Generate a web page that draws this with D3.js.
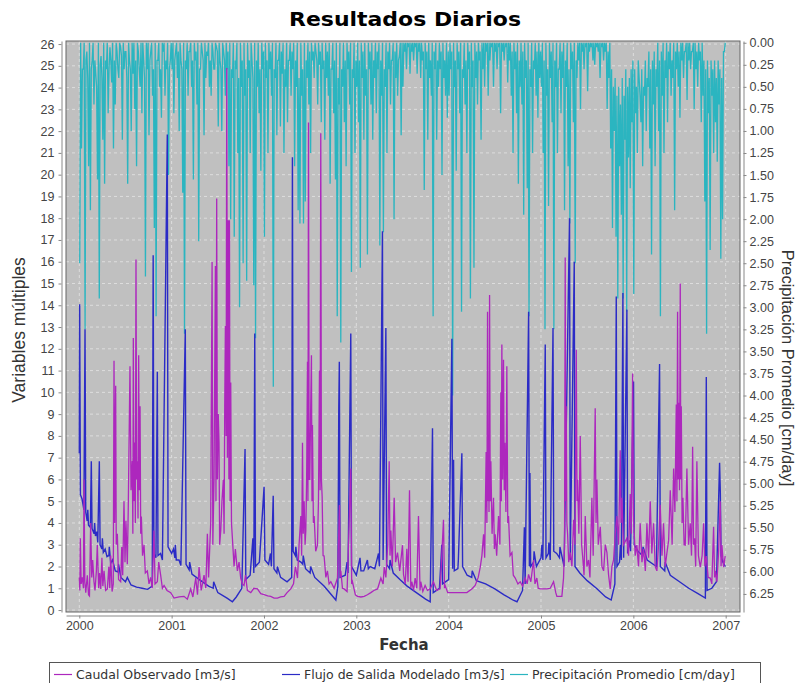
<!DOCTYPE html>
<html lang="es">
<head>
<meta charset="UTF-8">
<title>Resultados Diarios</title>
<style>
  body { margin: 0; background: #fff; }
  svg { display: block; font-family: "DejaVu Sans", sans-serif; }
  .tick text { fill: #444; font-size: 12.5px; }
  .tick line { stroke: #888; }
  .domain { stroke: #888; }
</style>
</head>
<body>
<div id="chart"></div>
<script src="https://d3js.org/d3.v7.min.js"></script>
<script>
// ---- data (decimal year, value) ----
const flujoModelado = [
  [2000.000, 7.2], [2000.004, 14.05], [2000.012, 5.3], [2000.030, 5.1], [2000.050, 4.6], [2000.062, 12.9],
  [2000.070, 4.5], [2000.085, 4.1], [2000.092, 4.6], [2000.100, 3.9], [2000.120, 3.8], [2000.130, 6.84],
  [2000.138, 3.75], [2000.160, 3.5], [2000.166, 4.0], [2000.175, 3.4], [2000.190, 3.6], [2000.200, 3.1],
  [2000.217, 6.84], [2000.225, 3.0], [2000.245, 2.8], [2000.250, 3.3], [2000.260, 2.65], [2000.280, 2.8],
  [2000.300, 2.45], [2000.320, 2.5], [2000.325, 2.9], [2000.340, 2.15], [2000.360, 2.3], [2000.390, 1.8],
  [2000.420, 1.75], [2000.425, 2.1], [2000.450, 1.5], [2000.500, 1.3], [2000.520, 1.5], [2000.560, 1.15],
  [2000.620, 1.05], [2000.680, 1.0], [2000.740, 0.95], [2000.790, 1.1], [2000.800, 16.3], [2000.808, 2.6],
  [2000.830, 2.4], [2000.845, 10.95], [2000.852, 2.5], [2000.880, 2.6], [2000.900, 2.3], [2000.953, 21.85],
  [2000.961, 2.9], [2001.000, 2.6], [2001.020, 2.8], [2001.035, 2.4], [2001.040, 3.0], [2001.050, 2.3],
  [2001.080, 2.3], [2001.100, 2.05], [2001.148, 12.9], [2001.156, 2.1], [2001.190, 1.85], [2001.195, 2.2],
  [2001.220, 1.65], [2001.300, 1.4], [2001.400, 1.1], [2001.450, 1.0], [2001.455, 1.3], [2001.500, 0.8],
  [2001.600, 0.55], [2001.658, 0.38], [2001.700, 0.6], [2001.760, 1.0], [2001.795, 7.4], [2001.803, 1.4],
  [2001.850, 1.6], [2001.880, 3.3], [2001.890, 1.7], [2001.900, 12.7], [2001.908, 2.0], [2001.950, 2.2],
  [2002.001, 5.66], [2002.010, 2.3], [2002.050, 2.1], [2002.070, 2.6], [2002.080, 2.0], [2002.100, 5.25],
  [2002.108, 1.9], [2002.140, 1.7], [2002.145, 2.0], [2002.180, 1.5], [2002.250, 1.3], [2002.300, 1.5],
  [2002.308, 20.8], [2002.316, 2.7], [2002.340, 2.5], [2002.345, 2.9], [2002.360, 2.3], [2002.400, 2.2],
  [2002.420, 2.1], [2002.425, 2.5], [2002.450, 1.9], [2002.500, 1.7], [2002.505, 2.0], [2002.550, 1.5],
  [2002.650, 1.1], [2002.730, 0.7], [2002.778, 0.46], [2002.800, 1.1], [2002.810, 9.27], [2002.816, 11.4],
  [2002.824, 1.5], [2002.880, 1.6], [2002.900, 2.2], [2002.910, 1.7], [2002.940, 12.7], [2002.948, 2.0],
  [2003.000, 1.6], [2003.040, 2.4], [2003.050, 1.8], [2003.080, 1.8], [2003.120, 2.3], [2003.130, 1.9],
  [2003.150, 2.0], [2003.200, 1.9], [2003.240, 2.6], [2003.250, 2.0], [2003.283, 17.4], [2003.290, 2.3],
  [2003.320, 12.96], [2003.328, 2.1], [2003.360, 1.9], [2003.365, 2.3], [2003.400, 1.7], [2003.475, 1.39],
  [2003.550, 1.1], [2003.650, 0.8], [2003.750, 0.5], [2003.800, 0.38], [2003.825, 8.35], [2003.833, 0.8],
  [2003.900, 1.0], [2003.926, 3.0], [2003.934, 1.2], [2004.000, 1.4], [2004.035, 12.46], [2004.043, 1.9],
  [2004.053, 6.9], [2004.061, 1.8], [2004.100, 1.9], [2004.105, 2.3], [2004.143, 7.2], [2004.151, 2.0],
  [2004.200, 1.6], [2004.250, 1.5], [2004.255, 1.8], [2004.300, 1.35], [2004.400, 1.2], [2004.500, 0.97],
  [2004.600, 0.7], [2004.700, 0.45], [2004.740, 0.38], [2004.800, 0.9], [2004.820, 3.8], [2004.828, 1.2],
  [2004.866, 13.7], [2004.874, 2.0], [2004.880, 6.3], [2004.888, 2.0], [2004.920, 2.2], [2004.925, 2.7],
  [2004.950, 2.0], [2005.000, 2.4], [2005.010, 3.0], [2005.020, 2.3], [2005.046, 12.2], [2005.054, 2.4],
  [2005.080, 2.6], [2005.085, 3.1], [2005.100, 2.3], [2005.130, 12.96], [2005.138, 2.7], [2005.170, 2.6],
  [2005.200, 2.4], [2005.205, 2.9], [2005.250, 2.0], [2005.309, 18.0], [2005.317, 2.3], [2005.360, 16.0],
  [2005.368, 2.0], [2005.420, 1.7], [2005.500, 1.35], [2005.600, 1.0], [2005.700, 0.6], [2005.760, 0.46],
  [2005.800, 1.2], [2005.815, 14.4], [2005.823, 2.0], [2005.850, 2.2], [2005.860, 3.0], [2005.870, 2.3],
  [2005.887, 14.56], [2005.895, 2.4], [2005.930, 13.8], [2005.938, 2.6], [2005.960, 3.2], [2005.970, 2.7],
  [2006.002, 10.5], [2006.010, 3.0], [2006.050, 2.7], [2006.100, 2.5], [2006.105, 2.9], [2006.150, 2.3],
  [2006.250, 2.0], [2006.284, 11.3], [2006.292, 2.0], [2006.340, 1.8], [2006.345, 2.2], [2006.400, 1.6],
  [2006.500, 1.3], [2006.600, 1.0], [2006.700, 0.75], [2006.780, 0.55], [2006.790, 10.7], [2006.798, 0.9],
  [2006.850, 1.0], [2006.900, 1.3], [2006.934, 6.76], [2006.942, 5.4], [2006.950, 2.5], [2006.970, 2.2],
  [2006.997, 2.0]
];

const caudalObservado = [
  [2000.000, 1.5], [2000.006, 0.9], [2000.011, 3.3], [2000.020, 1.2], [2000.033, 1.5], [2000.045, 1.0],
  [2000.051, 6.0], [2000.060, 1.3], [2000.070, 0.8], [2000.087, 1.6], [2000.100, 0.7], [2000.110, 0.65],
  [2000.123, 4.0], [2000.135, 1.5], [2000.145, 2.3], [2000.159, 1.3], [2000.170, 0.9], [2000.185, 1.8],
  [2000.195, 3.0], [2000.210, 1.0], [2000.220, 1.7], [2000.232, 0.97], [2000.245, 2.4], [2000.255, 1.1],
  [2000.268, 1.8], [2000.285, 0.9], [2000.304, 0.97], [2000.320, 2.0], [2000.330, 1.0], [2000.340, 2.5],
  [2000.355, 0.85], [2000.368, 1.2], [2000.376, 11.45], [2000.383, 4.0], [2000.394, 10.3], [2000.400, 3.0],
  [2000.412, 3.5], [2000.425, 1.4], [2000.448, 1.3], [2000.460, 2.9], [2000.470, 1.6], [2000.484, 5.0],
  [2000.495, 2.2], [2000.505, 4.1], [2000.520, 2.1], [2000.530, 4.6], [2000.549, 11.2], [2000.560, 5.5],
  [2000.574, 6.84], [2000.580, 3.5], [2000.585, 12.5], [2000.592, 5.0], [2000.600, 7.7], [2000.607, 4.0],
  [2000.614, 16.1], [2000.621, 6.0], [2000.629, 6.84], [2000.636, 4.2], [2000.643, 11.7], [2000.650, 5.5],
  [2000.658, 9.36], [2000.665, 3.5], [2000.672, 4.3], [2000.685, 2.5], [2000.701, 3.0], [2000.715, 1.7],
  [2000.737, 1.8], [2000.755, 1.2], [2000.773, 1.5], [2000.790, 1.0], [2000.809, 3.65], [2000.820, 1.2],
  [2000.845, 1.3], [2000.860, 2.2], [2000.881, 1.6], [2000.900, 1.0], [2000.918, 1.13], [2000.950, 0.9],
  [2000.990, 0.8], [2001.026, 0.55], [2001.080, 0.6], [2001.134, 0.63], [2001.170, 0.5], [2001.206, 0.97],
  [2001.230, 0.6], [2001.261, 1.47], [2001.280, 0.7], [2001.297, 1.97], [2001.320, 0.9], [2001.351, 1.6],
  [2001.370, 1.0], [2001.387, 3.5], [2001.400, 1.5], [2001.423, 4.0], [2001.438, 16.0], [2001.446, 3.0],
  [2001.459, 6.0], [2001.474, 15.8], [2001.480, 5.0], [2001.488, 18.9], [2001.495, 6.0], [2001.505, 9.0],
  [2001.513, 7.7], [2001.520, 3.0], [2001.532, 3.65], [2001.545, 5.0], [2001.560, 6.0], [2001.568, 3.5],
  [2001.575, 9.36], [2001.582, 13.05], [2001.590, 8.0], [2001.597, 24.9], [2001.604, 7.0], [2001.612, 17.9],
  [2001.620, 6.0], [2001.626, 17.9], [2001.633, 5.0], [2001.640, 10.45], [2001.648, 4.0], [2001.658, 3.3],
  [2001.676, 2.0], [2001.690, 2.8], [2001.712, 1.8], [2001.730, 2.2], [2001.748, 1.47], [2001.765, 1.2],
  [2001.784, 1.13], [2001.800, 1.6], [2001.820, 0.9], [2001.857, 0.8], [2001.890, 1.0], [2001.929, 0.97],
  [2001.965, 0.75], [2002.001, 0.71], [2002.040, 0.65], [2002.073, 0.63], [2002.110, 0.55], [2002.146, 0.55],
  [2002.180, 0.6], [2002.218, 0.63], [2002.250, 0.8], [2002.290, 0.97], [2002.320, 1.2], [2002.340, 2.0],
  [2002.363, 1.47], [2002.380, 3.0], [2002.399, 4.32], [2002.408, 2.5], [2002.417, 7.68], [2002.425, 3.5],
  [2002.435, 5.0], [2002.445, 3.0], [2002.453, 3.65], [2002.462, 6.0], [2002.471, 11.4], [2002.476, 5.0],
  [2002.482, 22.4], [2002.489, 6.0], [2002.496, 6.0], [2002.505, 9.0], [2002.514, 11.7], [2002.520, 5.0],
  [2002.525, 8.5], [2002.535, 4.0], [2002.543, 4.32], [2002.560, 2.7], [2002.579, 2.98], [2002.590, 5.0],
  [2002.601, 11.0], [2002.608, 5.5], [2002.615, 21.9], [2002.622, 6.0], [2002.630, 5.2], [2002.640, 2.5],
  [2002.651, 2.48], [2002.670, 1.5], [2002.687, 1.8], [2002.705, 1.2], [2002.724, 1.3], [2002.760, 1.0],
  [2002.796, 1.47], [2002.818, 4.83], [2002.825, 1.5], [2002.832, 1.8], [2002.850, 1.0], [2002.868, 0.97],
  [2002.900, 0.85], [2002.940, 6.5], [2002.950, 1.2], [2002.958, 1.3], [2002.990, 0.7], [2003.013, 0.63],
  [2003.050, 0.6], [2003.085, 0.63], [2003.120, 0.7], [2003.157, 0.8], [2003.190, 0.9], [2003.230, 0.97],
  [2003.266, 1.47], [2003.290, 1.2], [2003.302, 1.97], [2003.320, 1.5], [2003.340, 3.0], [2003.356, 6.84],
  [2003.365, 2.5], [2003.374, 3.65], [2003.390, 2.0], [2003.410, 5.16], [2003.425, 2.2], [2003.446, 2.64],
  [2003.470, 1.8], [2003.500, 2.98], [2003.511, 1.64], [2003.530, 1.2], [2003.547, 2.81], [2003.560, 1.3],
  [2003.576, 5.5], [2003.590, 1.0], [2003.601, 1.3], [2003.620, 0.9], [2003.637, 1.47], [2003.655, 1.0],
  [2003.673, 4.32], [2003.690, 0.9], [2003.698, 1.3], [2003.720, 0.85], [2003.745, 1.13], [2003.770, 0.9],
  [2003.799, 0.97], [2003.835, 1.3], [2003.870, 0.9], [2003.908, 0.97], [2003.944, 4.15], [2003.955, 1.0],
  [2003.962, 1.13], [2003.990, 0.8], [2004.016, 0.8], [2004.050, 0.8], [2004.088, 0.8], [2004.140, 0.8],
  [2004.197, 0.8], [2004.251, 0.97], [2004.287, 1.13], [2004.320, 1.5], [2004.342, 1.97], [2004.360, 2.5],
  [2004.378, 3.48], [2004.390, 2.4], [2004.406, 7.26], [2004.414, 4.0], [2004.421, 13.7], [2004.427, 5.0],
  [2004.432, 7.68], [2004.437, 4.5], [2004.443, 14.47], [2004.450, 5.0], [2004.457, 6.84], [2004.470, 3.5],
  [2004.486, 5.16], [2004.495, 2.8], [2004.504, 3.48], [2004.520, 2.5], [2004.540, 4.32], [2004.555, 3.0],
  [2004.565, 10.0], [2004.570, 5.0], [2004.576, 12.2], [2004.585, 6.0], [2004.594, 11.5], [2004.602, 5.5],
  [2004.609, 7.68], [2004.620, 4.5], [2004.630, 11.2], [2004.640, 4.0], [2004.648, 4.32], [2004.665, 2.5],
  [2004.685, 2.64], [2004.700, 1.6], [2004.721, 1.47], [2004.750, 1.2], [2004.775, 1.3], [2004.800, 1.1],
  [2004.829, 1.47], [2004.850, 1.2], [2004.865, 1.64], [2004.890, 1.3], [2004.919, 2.3], [2004.935, 1.2],
  [2004.955, 1.47], [2004.970, 1.0], [2004.992, 0.97], [2005.064, 0.97], [2005.100, 1.0], [2005.136, 1.3],
  [2005.160, 0.8], [2005.172, 0.63], [2005.226, 0.63], [2005.244, 1.47], [2005.255, 3.0], [2005.262, 16.2],
  [2005.268, 5.0], [2005.273, 9.36], [2005.280, 4.0], [2005.288, 3.48], [2005.300, 2.2], [2005.317, 2.64],
  [2005.335, 2.0], [2005.353, 4.15], [2005.368, 3.0], [2005.382, 11.96], [2005.390, 5.0], [2005.396, 6.0],
  [2005.410, 3.5], [2005.425, 8.0], [2005.440, 3.0], [2005.454, 2.3], [2005.466, 1.6], [2005.479, 4.32],
  [2005.497, 2.0], [2005.515, 2.3], [2005.530, 1.5], [2005.551, 5.16], [2005.565, 2.5], [2005.587, 9.27],
  [2005.596, 4.0], [2005.605, 6.0], [2005.620, 3.0], [2005.642, 3.82], [2005.660, 2.0], [2005.678, 1.8],
  [2005.696, 3.0], [2005.714, 2.64], [2005.732, 1.6], [2005.750, 0.97], [2005.768, 2.0], [2005.786, 2.3],
  [2005.804, 3.5], [2005.822, 4.32], [2005.840, 3.0], [2005.858, 7.34], [2005.867, 4.0], [2005.876, 5.16],
  [2005.893, 3.0], [2005.930, 3.3], [2005.948, 2.5], [2005.966, 5.33], [2005.978, 3.5], [2005.992, 10.87],
  [2006.002, 4.32], [2006.020, 2.5], [2006.038, 2.98], [2006.056, 2.0], [2006.074, 3.99], [2006.093, 2.2],
  [2006.111, 2.81], [2006.130, 1.8], [2006.147, 3.99], [2006.165, 2.4], [2006.183, 5.0], [2006.200, 2.6],
  [2006.219, 3.99], [2006.237, 2.0], [2006.255, 1.8], [2006.273, 3.0], [2006.291, 4.83], [2006.310, 2.5],
  [2006.327, 3.99], [2006.345, 2.0], [2006.364, 2.64], [2006.382, 3.2], [2006.400, 5.5], [2006.420, 3.0],
  [2006.436, 6.5], [2006.450, 4.5], [2006.465, 9.44], [2006.472, 5.0], [2006.479, 13.7], [2006.486, 6.0],
  [2006.494, 9.52], [2006.500, 5.5], [2006.508, 15.0], [2006.514, 6.0], [2006.519, 9.36], [2006.528, 4.0],
  [2006.537, 5.16], [2006.550, 3.0], [2006.562, 2.98], [2006.580, 6.5], [2006.598, 3.0], [2006.616, 3.99],
  [2006.630, 2.5], [2006.642, 7.5], [2006.652, 3.0], [2006.663, 3.3], [2006.675, 2.0], [2006.688, 6.84],
  [2006.705, 2.5], [2006.725, 1.97], [2006.745, 2.5], [2006.761, 3.99], [2006.775, 2.0], [2006.790, 2.48],
  [2006.810, 1.5], [2006.833, 1.47], [2006.850, 1.2], [2006.869, 3.82], [2006.880, 1.5], [2006.887, 1.8],
  [2006.905, 1.3], [2006.923, 2.64], [2006.941, 5.0], [2006.950, 2.0], [2006.959, 2.98], [2006.977, 1.97],
  [2006.995, 2.48]
];

// precipitation [cm/day], about two readings per week, per year
const precip2000 = [2.5, 0, 1.2, 0.3, 0.3, 0, 3.25, 0.2, 0.1, 0.4, 1.4, 0, 1.9, 0.3, 0.2, 0, 0.7, 0.2, 0.35, 0.5, 1.55, 0, 2.9, 0.25, 0.15, 0.4, 1.1, 0, 1.6, 0.2, 0.3, 0, 0.8, 0.3, 0.05, 0.2, 0.45, 0, 1.2, 0.2, 0.7, 0, 0.1, 0.3, 0.4, 0, 0.05, 0.15, 1.1, 0, 0.3, 0.1, 0.1, 0.4, 1.6, 0, 0.2, 0.3, 1.0, 0, 0.35, 0, 0.75, 0.2, 1.4, 0, 0.1, 0.3, 0.5, 0, 0.8, 0, 0.2, 0.4, 2.65, 0, 0.3, 0, 1.05, 0.2, 0.1, 0, 0.6, 0.3, 2.1, 0, 3.1, 0.2, 0.2, 0, 0.5, 0.3, 0.85, 0, 0.1, 0, 0.6, 0.2, 0.3, 0, 1.5, 0.3, 0.2, 0];
const precip2001 = [0.3, 0, 0.8, 0.2, 0.1, 0, 0.4, 0.1, 1.0, 0, 0.2, 0.3, 1.7, 0, 3.3, 0.2, 0.3, 0, 0.6, 0.1, 0.1, 0, 0.5, 0.2, 1.55, 0, 0.2, 0.1, 0.7, 0, 2.25, 0.3, 0.3, 0, 0.1, 0.2, 1.05, 0, 0.4, 0.1, 0.15, 0, 0.5, 0.2, 0.6, 0, 0.1, 0.3, 0.3, 0, 0.05, 0.1, 0.95, 0, 0.2, 0.3, 1.0, 0, 0.1, 0.2, 0.6, 0, 0.3, 0.1, 1.4, 0, 2.0, 0.3, 0.4, 0, 2.2, 0.2, 0.3, 0, 1.25, 0.4, 3.0, 0, 0.5, 0.2, 2.5, 0, 0.6, 0.3, 2.7, 0, 0.4, 0.2, 1.25, 0, 0.2, 0.4, 2.75, 0, 3.35, 0.2, 0.5, 0, 0.8, 0.3, 1.45, 0, 0.3, 0.1];
const precip2002 = [2.2, 0, 0.4, 0.2, 1.25, 0, 0.3, 0.1, 0.6, 0, 3.9, 0.3, 0.4, 0, 1.05, 0.2, 0.2, 0, 0.95, 0.1, 0.35, 0, 1.25, 0.3, 0.5, 0, 0.9, 0.2, 0.2, 0, 0.6, 0.1, 0.3, 0, 1.4, 0.2, 0.5, 0, 1.9, 0.4, 2.05, 0, 0.6, 0.3, 2.05, 0, 1.8, 0.2, 0.4, 0, 0.7, 0.1, 1.25, 0, 0.2, 0.1, 0.4, 0, 0.1, 0.2, 0.7, 0, 0.25, 0.1, 0.9, 0, 0.3, 0.2, 1.1, 0, 0.4, 0.1, 0.6, 0, 1.6, 0.3, 0.3, 0, 0.8, 0.2, 1.55, 0, 3.1, 0.4, 0.7, 0, 3.4, 0.3, 0.5, 0, 0.9, 0.2, 1.4, 0, 0.3, 0.1, 0.7, 0, 2.6, 0.3, 0.4, 0, 1.25, 0.2];
const precip2003 = [0.5, 0, 0.9, 0.2, 2.55, 0, 0.4, 0.1, 1.1, 0, 0.6, 0.3, 2.4, 0, 0.3, 0.1, 0.7, 0, 1.1, 0.2, 0.4, 0, 0.8, 0.1, 0.3, 0, 2.3, 0.2, 0.6, 0, 2.15, 0.3, 0.5, 0, 1.25, 0.1, 0.3, 0, 0.7, 0.2, 0.2, 0, 2.0, 0.1, 0.4, 0, 0.6, 0.2, 0.15, 0, 1.05, 0, 0.5, 0, 0.1, 0, 0.3, 0, 0.05, 0, 0.35, 0, 0.1, 0, 0.2, 0, 0.05, 0, 0.35, 0, 0.1, 0, 0.4, 0, 0.2, 0.1, 1.67, 0, 0.3, 0.1, 1.1, 0, 0.4, 0.2, 0.6, 0, 3.1, 0.1, 0.3, 0, 1.1, 0.2, 0.5, 0, 0.3, 0.1, 1.5, 0, 0.4, 0.2, 0.6, 0, 0.85, 0.1];
const precip2004 = [0.6, 0, 0.3, 0.1, 4.0, 0, 0.5, 0.2, 1.45, 0, 0.3, 0.1, 0.8, 0, 3.05, 0.3, 0.4, 0, 0.7, 0.2, 1.25, 0, 0.3, 0.1, 2.9, 0, 0.5, 0.2, 2.55, 0, 0.4, 0.1, 0.7, 0, 0.2, 0.1, 1.1, 0, 0.3, 0, 0.5, 0, 0.1, 0, 0.6, 0, 0.2, 0, 0.05, 0, 0.5, 0, 0.1, 0, 0.3, 0, 0.05, 0, 0.8, 0, 0.1, 0, 0.2, 0, 0.05, 0, 0.45, 0, 0.2, 0, 0.6, 0.1, 1.25, 0, 0.3, 0.1, 0.8, 0, 1.6, 0.2, 0.5, 0, 0.7, 0.1, 1.95, 0, 0.4, 0.2, 1.65, 0, 3.1, 0.3, 0.5, 0, 1.25, 0.2, 0.3, 0, 0.6, 0.1, 0.85, 0, 0.4, 0.1];
const precip2005 = [0.5, 0, 1.25, 0.2, 3.25, 0, 0.6, 0.3, 1.85, 0, 0.4, 0.1, 0.9, 0, 3.25, 0.2, 0.5, 0, 1.25, 0.3, 0.3, 0, 0.8, 0.1, 0.4, 0, 1.9, 0.2, 0.5, 0, 1.4, 0.3, 2.05, 0, 0.3, 0.1, 0.9, 0, 2.5, 0.2, 0.4, 0, 0.2, 0, 0.75, 0, 0.1, 0, 0.3, 0, 0.05, 0, 0.55, 0, 0.1, 0, 0.05, 0, 0.2, 0, 0.25, 0, 0.05, 0, 0.1, 0, 0.4, 0, 0.05, 0, 0.2, 0, 0.1, 0, 0.75, 0.1, 0.4, 0, 1.2, 0.3, 2.1, 0.5, 1.0, 0.4, 2.2, 0.6, 2.9, 0.5, 1.4, 0.7, 1.95, 0.4, 2.9, 0.6, 1.1, 0.3, 3.05, 0.5, 1.3, 0.4, 1.65, 0.3, 0.9, 0.2];
const precip2006 = [2.85, 0.3, 0.8, 0.5, 1.25, 0.2, 0.4, 0.6, 0.9, 0.3, 1.4, 0.5, 0.6, 0.2, 1.0, 0.4, 0.5, 0.1, 1.2, 0.3, 2.4, 0.2, 0.7, 0.1, 1.4, 0.3, 0.5, 0, 1.0, 0.2, 3.1, 0.1, 0.6, 0, 1.25, 0.2, 0.4, 0, 0.9, 0.1, 0.3, 0, 0.6, 0.2, 0.4, 0, 1.9, 0.1, 0.3, 0, 0.5, 0.1, 0.85, 0, 0.2, 0, 0.4, 0.1, 0.1, 0, 0.65, 0, 0.2, 0, 0.3, 0.1, 0.1, 0, 0.75, 0, 0.3, 0.1, 0.5, 0, 0.2, 0.1, 0.9, 0, 0.6, 0.2, 1.8, 0.3, 3.3, 0.2, 0.8, 0.4, 2.35, 0.2, 0.6, 0.3, 1.25, 0.2, 0.9, 0.4, 1.35, 0.2, 0.7, 0.3, 2.45, 0.4, 2.0, 0.1, 0.1, 0];

const precipYears = [2000, 2001, 2002, 2003, 2004, 2005, 2006];
const precipByYear = [precip2000, precip2001, precip2002, precip2003, precip2004, precip2005, precip2006];

const yearTicks = [2000, 2001, 2002, 2003, 2004, 2005, 2006, 2007];
const leftTicks = d3.range(0, 27);
const rightTicks = d3.range(0, 6.26, 0.25);

const seriesNames = ['Caudal Observado [m3/s]', 'Flujo de Salida Modelado [m3/s]', 'Precipitación Promedio [cm/day]'];
const seriesColors = ['#ad27bd', '#2b2bc6', '#2bb5c0'];

// build precipitation table (readings spread evenly over each year)
const precipitacion = [];
precipYears.forEach((yr, k) => {
  const vals = precipByYear[k];
  vals.forEach((v, i) => precipitacion.push([yr + (i + 0.5) / vals.length, v]));
});

// ---- layout ----
const W = 801, H = 683;
const plot = { left: 66, right: 740, top: 41, bottom: 612 };

const svg = d3.select('#chart').append('svg')
  .attr('width', W).attr('height', H);

const x = d3.scaleLinear().domain([1999.856, 2007.155]).range([plot.left, plot.right]);
const yL = d3.scaleLinear().domain([-0.09, 26.14]).range([plot.bottom, plot.top]);
const yR = d3.scaleLinear().domain([-0.02, 6.455]).range([plot.top, plot.bottom]);

// title
svg.append('text')
  .attr('x', 405).attr('y', 26)
  .attr('text-anchor', 'middle')
  .attr('textLength', 232).attr('lengthAdjust', 'spacingAndGlyphs')
  .style('font-family', '"DejaVu Sans", sans-serif')
  .style('font-weight', 'bold')
  .style('font-size', '20px')
  .attr('fill', '#000')
  .text('Resultados Diarios');

// plot background
svg.append('rect')
  .attr('x', plot.left).attr('y', plot.top)
  .attr('width', plot.right - plot.left).attr('height', plot.bottom - plot.top)
  .attr('fill', '#c0c0c0');

// gridlines
const grid = svg.append('g');
grid.selectAll('.hg').data(leftTicks).enter().append('line')
  .attr('x1', plot.left).attr('x2', plot.right)
  .attr('y1', d => yL(d)).attr('y2', d => yL(d))
  .attr('stroke', '#e4e4e4').attr('stroke-width', 0.8).attr('stroke-dasharray', '3,3');
grid.selectAll('.vg').data(yearTicks).enter().append('line')
  .attr('y1', plot.top).attr('y2', plot.bottom)
  .attr('x1', d => x(d)).attr('x2', d => x(d))
  .attr('stroke', '#e4e4e4').attr('stroke-width', 0.8).attr('stroke-dasharray', '3,3');

// series
svg.append('clipPath').attr('id', 'clip').append('rect')
  .attr('x', plot.left).attr('y', plot.top)
  .attr('width', plot.right - plot.left).attr('height', plot.bottom - plot.top);

const lines = svg.append('g').attr('clip-path', 'url(#clip)');
const lineL = d3.line().x(d => x(d[0])).y(d => yL(d[1]));
const lineR = d3.line().x(d => x(d[0])).y(d => yR(d[1]));

lines.append('path').datum(precipitacion)
  .attr('d', lineR).attr('fill', 'none')
  .attr('stroke', seriesColors[2]).attr('stroke-width', 1.3);
lines.append('path').datum(flujoModelado)
  .attr('d', lineL).attr('fill', 'none')
  .attr('stroke', seriesColors[1]).attr('stroke-width', 1.4);
lines.append('path').datum(caudalObservado)
  .attr('d', lineL).attr('fill', 'none')
  .attr('stroke', seriesColors[0]).attr('stroke-width', 1.3);

// plot border
svg.append('rect')
  .attr('x', plot.left).attr('y', plot.top)
  .attr('width', plot.right - plot.left).attr('height', plot.bottom - plot.top)
  .attr('fill', 'none').attr('stroke', '#666').attr('stroke-width', 1);

// axes
svg.append('g').attr('transform', 'translate(61.5,0)')
  .call(d3.axisLeft(yL).tickValues(leftTicks).tickSize(3).tickPadding(4).tickSizeOuter(0));

svg.append('g').attr('transform', 'translate(743.5,0)')
  .call(d3.axisRight(yR).tickValues(rightTicks).tickSize(3).tickPadding(3).tickSizeOuter(0)
    .tickFormat(d3.format('.2f')));

svg.append('g').attr('transform', 'translate(0,615.5)')
  .call(d3.axisBottom(x).tickValues(yearTicks).tickSize(3).tickPadding(3).tickSizeOuter(0)
    .tickFormat(d3.format('d')));

// axis labels
svg.append('text')
  .attr('transform', 'translate(25,330) rotate(-90)')
  .attr('text-anchor', 'middle')
  .style('font-family', '"Liberation Sans", sans-serif')
  .style('font-size', '17.5px')
  .attr('fill', '#333')
  .text('Variables múltiples');

svg.append('text')
  .attr('x', 404).attr('y', 650)
  .attr('text-anchor', 'middle')
  .style('font-family', '"DejaVu Sans", sans-serif')
  .style('font-weight', 'bold')
  .style('font-size', '15px')
  .attr('fill', '#333')
  .text('Fecha');

svg.append('text')
  .attr('transform', 'translate(782,368) rotate(90)')
  .attr('text-anchor', 'middle')
  .style('font-family', '"Liberation Sans", sans-serif')
  .style('font-size', '16.5px')
  .attr('fill', '#333')
  .text('Precipitación Promedio [cm/day]');

// legend
const legend = svg.append('g');
legend.append('rect')
  .attr('x', 49.5).attr('y', 662.5).attr('width', 711).attr('height', 30)
  .attr('fill', '#fff').attr('stroke', '#555');
const legendX = [54, 282, 510];
seriesNames.forEach((name, i) => {
  legend.append('line')
    .attr('x1', legendX[i]).attr('x2', legendX[i] + 18)
    .attr('y1', 674.5).attr('y2', 674.5)
    .attr('stroke', seriesColors[i]).attr('stroke-width', 1.2);
  legend.append('text')
    .attr('x', legendX[i] + 22).attr('y', 679)
    .style('font-family', '"DejaVu Sans", sans-serif')
    .style('font-size', '12.5px')
    .attr('fill', '#333')
    .text(name);
});
</script>
</body>
</html>
